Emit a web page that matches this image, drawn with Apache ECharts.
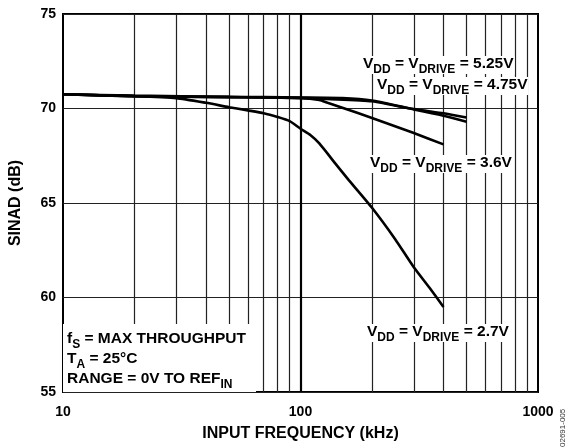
<!DOCTYPE html>
<html>
<head>
<meta charset="utf-8">
<script src="https://cdn.jsdelivr.net/npm/echarts@6/dist/echarts.min.js"></script>
<style>html,body{margin:0;padding:0;background:#fff}#c{width:568px;height:447px}</style>
</head>
<body>
<div id="c"></div>
<script>
// Data (x: kHz, y: SINAD dB)
var freq525 = [10, 20, 50, 100, 150, 200, 300, 400, 500];
var sinad525 = [70.75, 70.68, 70.62, 70.58, 70.55, 70.42, 69.97, 69.75, 69.52];
var freq475 = [10, 20, 50, 100, 130, 200, 300, 400, 500];
var sinad475 = [70.75, 70.65, 70.6, 70.56, 70.5, 70.38, 69.95, 69.62, 69.3];
var freq36 = [10, 20, 50, 100, 120, 130, 150, 200, 300, 400];
var sinad36 = [70.75, 70.65, 70.6, 70.55, 70.45, 70.3, 70.04, 69.5, 68.7, 68.1];
var freq27 = [10, 20, 30, 40, 50, 60, 70, 80, 90, 100, 110, 120, 140, 160, 200, 250, 300, 350, 400];
var sinad27 = [70.75, 70.65, 70.55, 70.3, 70.07, 69.9, 69.75, 69.55, 69.33, 68.93, 68.6, 68.15, 67.1, 66.2, 64.75, 63.1, 61.6, 60.5, 59.5];
var minorGridX = [20, 30, 40, 50, 60, 70, 80, 90, 200, 300, 400, 500, 600, 700, 800, 900];
var majorGridX = [100];
var yTicks = [55, 60, 65, 70, 75];
var xTicks = [10, 100, 1000];
var curveLabels = ['5.25V', '4.75V', '3.6V', '2.7V'];
var noteLines = ['{a|f}{s|S}{a| = MAX THROUGHPUT}', '{a|T}{s|A}{a| = 25°C}', '{a|RANGE = 0V TO REF}{s|IN}'];

function pairs(xs, ys) { return xs.map(function (x, i) { return [x, ys[i]]; }); }

var FONT = '"Liberation Sans", Arial, Helvetica, sans-serif';
var rich = {
  a: { fontFamily: FONT, fontWeight: 'bold', fontSize: 15.5, lineHeight: 18, verticalAlign: 'top', color: '#000' },
  s: { fontFamily: FONT, fontWeight: 'bold', fontSize: 12, lineHeight: 12, verticalAlign: 'top', padding: [8, 0, 0, 0], color: '#000' }
};
function vdd(v) { return '{a|V}{s|DD}{a| = V}{s|DRIVE}{a| = ' + v + '}'; }

var chart = echarts.init(document.getElementById('c'), null, { renderer: 'canvas' });

function lineSeries(name, xs, ys, extra) {
  var s = {
    name: name, type: 'line', data: pairs(xs, ys), symbol: 'none',
    smooth: 0.2,
    lineStyle: { color: '#000', width: 2.6 }, z: 5, silent: true
  };
  if (extra) for (var k in extra) s[k] = extra[k];
  return s;
}

var option = {
  animation: false,
  backgroundColor: '#fff',
  grid: { left: 61, top: 14, right: 30, bottom: 53, show: true, borderColor: '#000', borderWidth: 2, backgroundColor: 'transparent' },
  xAxis: {
    type: 'log', logBase: 10, min: xTicks[0], max: xTicks[xTicks.length - 1],
    name: 'INPUT FREQUENCY (kHz)', nameLocation: 'middle', nameGap: 34,
    nameTextStyle: { fontFamily: FONT, fontWeight: 'bold', fontSize: 16, color: '#000' },
    axisLine: { show: false }, axisTick: { show: false }, splitLine: { show: false },
    axisLabel: { fontFamily: FONT, fontWeight: 'bold', fontSize: 14, color: '#000', margin: 13,
      formatter: function (v) { return xTicks.indexOf(Math.round(v)) >= 0 ? String(Math.round(v)) : ''; } }
  },
  yAxis: {
    type: 'value', min: yTicks[0], max: yTicks[yTicks.length - 1], interval: 5,
    name: 'SINAD (dB)', nameLocation: 'middle', nameGap: 39,
    nameTextStyle: { fontFamily: FONT, fontWeight: 'bold', fontSize: 16, color: '#000' },
    axisLine: { show: false }, axisTick: { show: false },
    splitLine: { show: true, lineStyle: { color: '#222', width: 1.2 } },
    axisLabel: { fontFamily: FONT, fontWeight: 'bold', fontSize: 14, color: '#000', margin: 7 }
  },
  series: [
    lineSeries('5.25V', freq525, sinad525, {
      markLine: {
        silent: true, symbol: 'none', label: { show: false }, z: 1,
        lineStyle: { color: '#222', width: 1.2, type: 'solid' },
        data: minorGridX.map(function (x) { return { xAxis: x }; }).concat(
          majorGridX.map(function (x) { return { xAxis: x, lineStyle: { color: '#000', width: 2.2, type: 'solid' } }; }))
      }
    }),
    lineSeries('4.75V', freq475, sinad475),
    lineSeries('3.6V', freq36, sinad36),
    lineSeries('2.7V', freq27, sinad27)
  ],
  graphic: [
    { type: 'rect', z: 50, shape: { x: 63, y: 324, width: 193, height: 68 }, style: { fill: '#fff' } },
    { type: 'text', z: 51, x: 67, y: 331, style: { text: noteLines[0], rich: rich } },
    { type: 'text', z: 51, x: 67, y: 351, style: { text: noteLines[1], rich: rich } },
    { type: 'text', z: 51, x: 67, y: 371, style: { text: noteLines[2], rich: rich } },
    { type: 'text', z: 53, x: 362, y: 56, style: { text: vdd(curveLabels[0]), rich: rich, backgroundColor: '#fff', padding: [0, 1, 0, 1] } },
    { type: 'text', z: 51, x: 376, y: 77, style: { text: vdd(curveLabels[1]), rich: rich, backgroundColor: '#fff', padding: [0, 1, 0, 1] } },
    { type: 'text', z: 51, x: 369, y: 155, style: { text: vdd(curveLabels[2]), rich: rich, backgroundColor: '#fff', padding: [0, 1, 0, 1] } },
    { type: 'text', z: 51, x: 366, y: 324, style: { text: vdd(curveLabels[3]), rich: rich, backgroundColor: '#fff', padding: [0, 1, 0, 1] } },
    { type: 'text', z: 51, x: 559, y: 447, rotation: Math.PI / 2, style: { text: '02691-005', fontFamily: FONT, fontSize: 8, fill: '#333' } }
  ]
};
chart.setOption(option);
</script>
</body>
</html>
